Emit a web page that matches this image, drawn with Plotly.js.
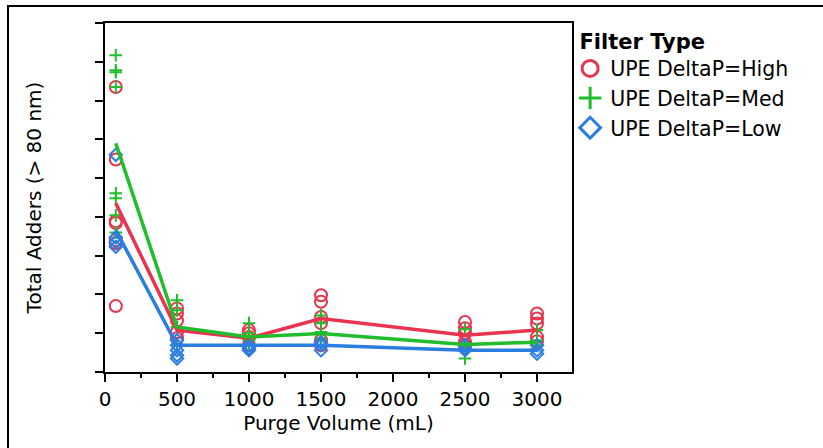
<!DOCTYPE html>
<html>
<head>
<meta charset="utf-8">
<script src="https://cdn.plot.ly/plotly-3.0.1.min.js"></script>
<style>
  html, body { margin: 0; padding: 0; background: #fff; }
  #wrap { position: relative; width: 823px; height: 448px; }
  #chart { position: absolute; left: 0; top: 0; width: 823px; height: 448px; }
  #frame { position: absolute; left: 7px; top: 5px; width: 816px; height: 443px;
           border-left: 2px solid #000; border-top: 2px solid #000; pointer-events: none; }
</style>
</head>
<body>
<div id="wrap"><div id="chart"></div><div id="frame"></div></div>
<script>
// Purge volumes (mL)
const volumes = [75, 500, 1000, 1500, 2500, 3000];

// Individual observations per volume (y in axis units; labels hidden in the original)
const highObs = [
  [7.35, 5.48, 3.89, 3.84, 3.40, 3.32, 1.70],
  [1.64, 1.51, 1.33, 1.03, 0.87],
  [1.08, 1.00, 0.90, 0.69],
  [1.98, 1.81, 1.42, 1.26, 0.82, 0.69],
  [1.29, 1.13, 1.00, 0.77, 0.69],
  [1.51, 1.38, 1.25, 0.90, 0.79]
];
const medObs = [
  [8.17, 7.78, 7.73, 7.35, 4.61, 4.48, 4.04, 3.60],
  [1.85, 1.59, 1.16, 0.69],
  [1.26, 1.00, 0.82, 0.69],
  [1.46, 1.26, 1.03, 0.87, 0.69],
  [1.10, 0.69, 0.35],
  [1.08, 0.82, 0.69]
];
const lowObs = [
  [5.60, 3.47, 3.35, 3.23],
  [0.82, 0.69, 0.56, 0.43, 0.35],
  [0.69, 0.61, 0.56],
  [0.77, 0.69, 0.56],
  [0.69, 0.61, 0.56],
  [0.69, 0.56, 0.47]
];

// Mean lines
const highMean = [4.35, 1.08, 0.87, 1.38, 0.95, 1.08];
const medMean  = [5.90, 1.16, 0.90, 0.99, 0.71, 0.77];
const lowMean  = [3.66, 0.69, 0.69, 0.69, 0.56, 0.56];

const seriesNames = ['UPE DeltaP=High', 'UPE DeltaP=Med', 'UPE DeltaP=Low'];
const colors = ['#E8344F', '#20BE2C', '#2A7DE1'];
const symbols = ['circle-open', 'cross-thin-open', 'diamond-open'];
const markerSizes = [12, 9, 9.5];

function flatten(obs) {
  const xs = [], ys = [];
  obs.forEach((vals, i) => vals.forEach(v => { xs.push(volumes[i]); ys.push(v); }));
  return {xs, ys};
}

const obsSets = [highObs, medObs, lowObs];
const meanSets = [highMean, medMean, lowMean];
const traces = [];

obsSets.forEach((obs, k) => {
  const f = flatten(obs);
  traces.push({
    type: 'scatter', mode: 'markers', x: f.xs, y: f.ys, showlegend: false,
    marker: {symbol: symbols[k], size: markerSizes[k], color: colors[k], line: {color: colors[k], width: 2}},
    hoverinfo: 'x+y', name: seriesNames[k]
  });
});
meanSets.forEach((m, k) => {
  traces.push({
    type: 'scatter', mode: 'lines', x: volumes, y: m, showlegend: false,
    line: {color: colors[k], width: 3.5}, name: seriesNames[k]
  });
});
// legend entries
seriesNames.forEach((n, k) => {
  traces.push({
    type: 'scatter', mode: 'markers', x: [null], y: [null], name: n, showlegend: true,
    marker: {symbol: symbols[k], size: 16, color: colors[k], line: {color: colors[k], width: 3}}
  });
});

const layout = {
  width: 823, height: 448,
  margin: {l: 105, r: 251, t: 23, b: 76},
  paper_bgcolor: '#fff', plot_bgcolor: '#fff',
  font: {family: 'DejaVu Sans, sans-serif', size: 20, color: '#000'},
  xaxis: {
    range: [0, 3243], tickvals: [0, 500, 1000, 1500, 2000, 2500, 3000],
    ticks: 'outside', ticklen: 8, tickwidth: 2, tickcolor: '#000',
    showline: true, linewidth: 2, linecolor: '#000', mirror: true,
    showgrid: false, zeroline: false,
    minor: {dtick: 250, tick0: 0, ticks: 'outside', ticklen: 4, tickwidth: 2, tickcolor: '#000', showgrid: false},
    tickfont: {size: 20},
    title: {text: 'Purge Volume (mL)', font: {size: 20}, standoff: 4}
  },
  yaxis: {
    range: [0, 9], dtick: 1, tick0: 0,
    ticks: 'outside', ticklen: 8, tickwidth: 2, tickcolor: '#000',
    showticklabels: false,
    showline: true, linewidth: 2, linecolor: '#000', mirror: true,
    showgrid: false, zeroline: false,
    title: {text: 'Total Adders (> 80 nm)', font: {size: 20}, standoff: 48}
  },
  legend: {
    x: 0.996, xanchor: 'left', y: 1.005, yanchor: 'top',
    bgcolor: 'rgba(0,0,0,0)', borderwidth: 0,
    font: {size: 20.5},
    title: {text: '<b>&nbsp;Filter Type</b>', font: {size: 21}},
    tracegroupgap: 0
  },
  showlegend: true
};

Plotly.newPlot('chart', traces, layout, {displayModeBar: false, staticPlot: true});
</script>
</body>
</html>
